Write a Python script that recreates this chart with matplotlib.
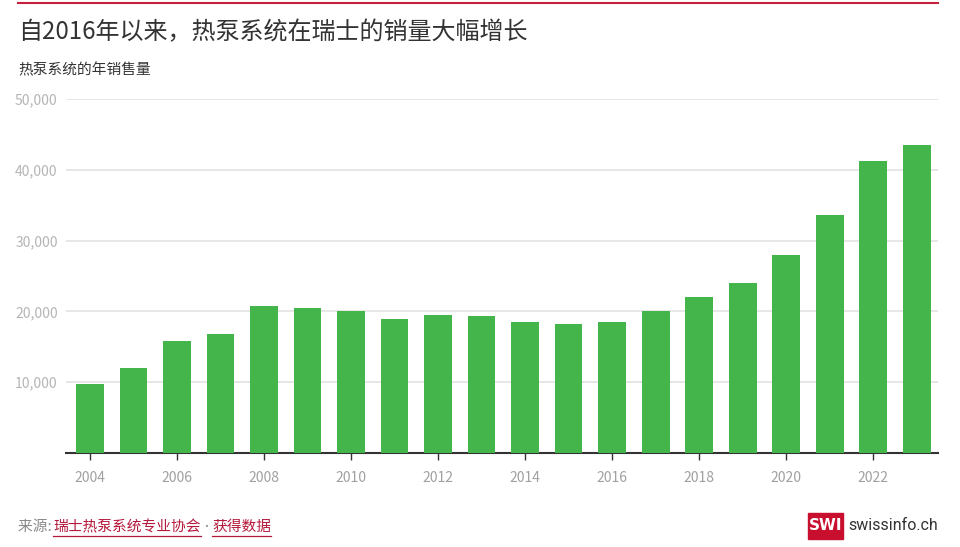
import matplotlib
matplotlib.use("Agg")
import matplotlib.pyplot as plt
from matplotlib.patches import Rectangle
from matplotlib.lines import Line2D

plt.rcParams['font.family'] = ['Noto Sans CJK SC', 'DejaVu Sans']

years = list(range(2004, 2024))
sales = [9800, 12000, 15850, 16850, 20700, 20500, 20000, 18900, 19500, 19350,
         18550, 18250, 18550, 20000, 22000, 24000, 28000, 33650, 41300, 43550]
yticks = [10000, 20000, 30000, 40000, 50000]
ytick_labels = ["10,000", "20,000", "30,000", "40,000", "50,000"]
xticks = list(range(2004, 2024, 2))

title = "自2016年以来，热泵系统在瑞士的销量大幅增长"
subtitle = "热泵系统的年销售量"

fig = plt.figure(figsize=(9.6, 5.47), dpi=100)
W, H = 960, 547

def fx(px):
    return px / W

def fy(py):
    return 1 - py / H

ax = fig.add_axes([fx(66), fy(453), fx(938) - fx(66), fy(99) - fy(453)])
ax.bar(years, sales, width=0.64, color="#43b54a", zorder=3)
ax.set_xlim(2003.45, 2023.49)
ax.set_ylim(0, 50000)
ax.set_yticks(yticks)
ax.set_yticklabels(ytick_labels)
ax.set_xticks(xticks)
ax.set_xticklabels([str(x) for x in xticks])
ax.grid(axis="y", color="#e3e3e3", linewidth=1.2, zorder=0)
for s in ["top", "right", "left"]:
    ax.spines[s].set_visible(False)
ax.spines["bottom"].set_color("#333333")
ax.spines["bottom"].set_linewidth(1.5)
ax.tick_params(axis="y", length=0, pad=6, labelsize=10, labelcolor="#b5b5b5")
ax.tick_params(axis="x", length=5, width=1, color="#333333", pad=8,
               labelsize=10, labelcolor="#a0a0a0")

# top red rule
fig.add_artist(Line2D([fx(18), fx(938)], [fy(3), fy(3)], color="#c8203c", linewidth=1.5))

fig.text(fx(18), fy(32), title, fontsize=17.3, color="#333333", va="center", ha="left")
fig.text(fx(18), fy(70), subtitle, fontsize=10.6, color="#333333", va="center", ha="left")

# footer
fs = 10.6
t1 = fig.text(fx(18), fy(527), "来源: ", fontsize=fs, color="#8a8a8a", va="center", ha="left")
fig.canvas.draw()
r = fig.canvas.get_renderer()
bb = t1.get_window_extent(r)
x = bb.x1 / W - 0.002
t2 = fig.text(x, fy(527), "瑞士热泵系统专业协会", fontsize=fs, color="#b3193a", va="center", ha="left")
bb2 = t2.get_window_extent(r)
fig.add_artist(Line2D([bb2.x0 / W, bb2.x1 / W], [fy(536), fy(536)], color="#b3193a", linewidth=0.9))
t3 = fig.text(bb2.x1 / W + 0.001, fy(527), "•", fontsize=7, color="#8a8a8a", va="center", ha="left")
bb3 = t3.get_window_extent(r)
t4 = fig.text(bb3.x1 / W + 0.001, fy(527), "获得数据", fontsize=fs, color="#b3193a", va="center", ha="left")
bb4 = t4.get_window_extent(r)
fig.add_artist(Line2D([bb4.x0 / W, bb4.x1 / W], [fy(536), fy(536)], color="#b3193a", linewidth=0.9))

# SWI logo
fig.add_artist(Rectangle((fx(808), fy(539)), fx(843) - fx(808), fy(513) - fy(539),
                         transform=fig.transFigure, color="#c8102e"))
fig.text(fx(825.5), fy(526), "SWI", fontsize=11, fontweight="bold", color="white",
         va="center", ha="center", family=["Liberation Sans Narrow", "DejaVu Sans"])
fig.text(fx(848), fy(526), "swissinfo.ch", fontsize=11.5, color="#333333",
         va="center", ha="left", family=["Roboto", "DejaVu Sans"])

fig.savefig("out.png", dpi=100)
